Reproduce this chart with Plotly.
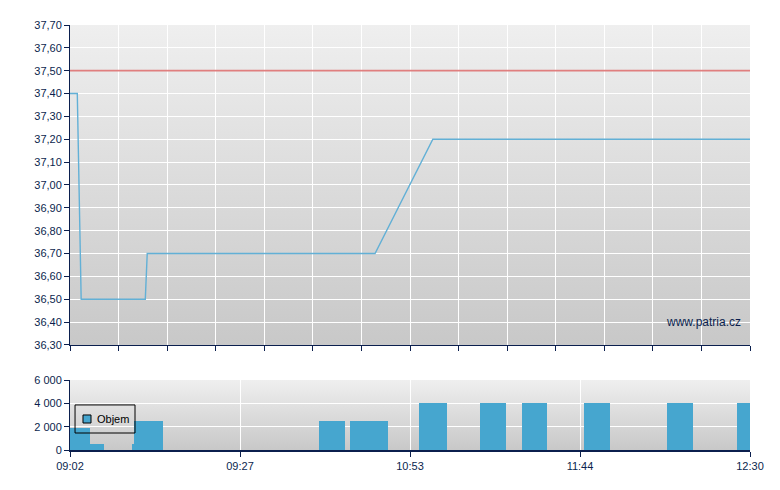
import base64
import plotly.graph_objects as go

# ---- data ----
# x positions are in axis units (0..14), the chart's (trade-sequence) time axis
tick_labels = ["09:02", "09:27", "10:53", "11:44", "12:30"]
tick_pos = [0, 3.5, 7, 10.5, 14]

price_pos = [0, 0.15, 0.23, 1.55, 1.59, 6.28, 7.47, 14]
price_val = [37.40, 37.40, 36.50, 36.50, 36.70, 36.70, 37.20, 37.20]

prev_close = 37.50

vol_start = [0.0, 0.41, 1.28, 1.32, 5.13, 5.77, 7.19, 8.44, 9.30, 10.58, 12.29, 13.73]
vol_end = [0.41, 0.70, 1.32, 1.915, 5.66, 6.55, 7.76, 8.98, 9.83, 11.12, 12.82, 14.0]
vol_val = [1850, 500, 500, 2500, 2500, 2500, 4000, 4000, 4000, 4000, 4000, 4000]

# ---- styles ----
NAVY = "#0b1f4e"
BAR = "#46a6cf"
FONT = "Liberation Sans, Arial, sans-serif"

fig = go.Figure()

fig.add_trace(go.Scatter(
    x=[0, 14], y=[prev_close, prev_close], mode="lines",
    line=dict(color="#e07f7f", width=1.7), showlegend=False, hoverinfo="skip",
    xaxis="x", yaxis="y"))

fig.add_trace(go.Scatter(
    x=price_pos, y=price_val, mode="lines",
    line=dict(color="#62b0d6", width=1.4), showlegend=False,
    xaxis="x", yaxis="y"))

fig.add_trace(go.Bar(
    x=vol_start, y=vol_val,
    width=[e - s for s, e in zip(vol_start, vol_end)],
    offset=0, name="Objem", showlegend=False,
    marker=dict(color=BAR, line=dict(width=0)),
    xaxis="x2", yaxis="y2"))

# gradient background image
svg = ('<svg xmlns="http://www.w3.org/2000/svg" width="10" height="100" '
       'preserveAspectRatio="none"><defs><linearGradient id="g" x1="0" y1="0" '
       'x2="0" y2="1"><stop offset="0" stop-color="#efefef"/>'
       '<stop offset="1" stop-color="#c8c8c8"/></linearGradient></defs>'
       '<rect width="10" height="100" fill="url(#g)"/></svg>')
src = "data:image/svg+xml;base64," + base64.b64encode(svg.encode()).decode()
images = []
for xr, yr in (("x domain", "y domain"), ("x2 domain", "y2 domain")):
    images.append(dict(source=src, xref=xr, yref=yr, x=0, y=1, sizex=1, sizey=1,
                       xanchor="left", yanchor="top", sizing="stretch",
                       layer="below"))

# manual legend (box, swatch, label)
shapes = [
    dict(type="rect", xref="paper", yref="paper", x0=0.0074, x1=0.0956,
         y0=0.040, y1=0.106, line=dict(color="#000000", width=1),
         fillcolor="rgba(0,0,0,0)"),
    dict(type="rect", xref="paper", yref="paper", x0=0.0191, x1=0.0309,
         y0=0.0635, y1=0.0824, line=dict(color="#000000", width=1),
         fillcolor=BAR),
]

main_y_ticks = [round(36.30 + 0.1 * i, 2) for i in range(15)]

fig.update_layout(
    width=780, height=490,
    margin=dict(l=62, r=38, t=17, b=48),
    paper_bgcolor="white", plot_bgcolor="rgba(0,0,0,0)",
    separators=", ",
    font=dict(family=FONT, size=11, color=NAVY),
    images=images,
    shapes=shapes,
    bargap=0,
    showlegend=False,
    xaxis=dict(domain=[0, 1], anchor="y", range=[0, 14],
               tickvals=list(range(15)), showticklabels=False,
               ticks="outside", ticklen=5, tickcolor=NAVY,
               showgrid=True, gridcolor="white", gridwidth=1,
               showline=True, linecolor=NAVY, linewidth=1, zeroline=False),
    yaxis=dict(domain=[0.2471, 1], anchor="x", range=[36.30, 37.70],
               tickvals=main_y_ticks, tickformat=".2f",
               ticks="outside", ticklen=5, tickcolor=NAVY,
               showgrid=True, gridcolor="white", gridwidth=1,
               showline=True, linecolor=NAVY, linewidth=1, zeroline=False),
    xaxis2=dict(domain=[0, 1], anchor="y2", range=[0, 14],
                tickvals=tick_pos, ticktext=tick_labels,
                ticks="outside", ticklen=5, tickcolor=NAVY,
                showgrid=True, gridcolor="white", gridwidth=1,
                showline=True, linecolor=NAVY, linewidth=2, zeroline=False),
    yaxis2=dict(domain=[0, 0.1647], anchor="x2", range=[0, 6000],
                tickvals=[0, 2000, 4000, 6000], tickformat=",d",
                ticks="outside", ticklen=5, tickcolor=NAVY,
                showgrid=True, gridcolor="white", gridwidth=1,
                showline=True, linecolor=NAVY, linewidth=1, zeroline=False),
    annotations=[
        dict(text="www.patria.cz", xref="paper", yref="y",
             x=0.99, y=36.40, xanchor="right", yanchor="middle",
             showarrow=False, font=dict(family=FONT, size=12, color=NAVY)),
        dict(text="Objem", xref="paper", yref="paper",
             x=0.0368, y=0.073, xanchor="left", yanchor="middle",
             showarrow=False, font=dict(family=FONT, size=11, color="#000000")),
    ],
)

fig.write_html("out.html", config={"displayModeBar": False})
